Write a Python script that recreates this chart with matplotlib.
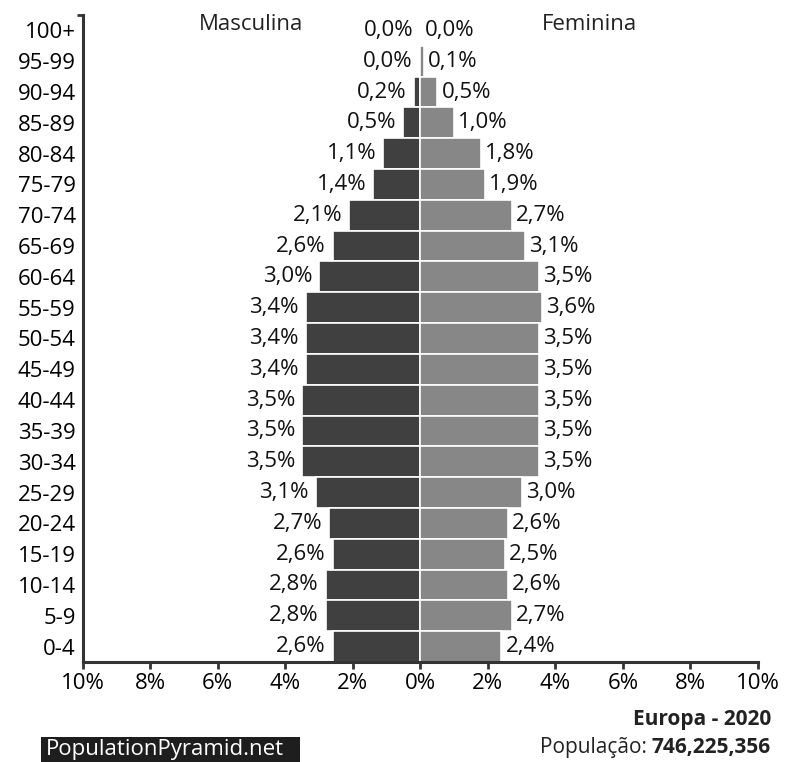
import matplotlib
matplotlib.use("Agg")
import matplotlib.pyplot as plt
from matplotlib.patches import Rectangle

plt.rcParams['font.family'] = ['Open Sans', 'DejaVu Sans']

# age groups from top (100+) to bottom (0-4)
age_groups = ["100+", "95-99", "90-94", "85-89", "80-84", "75-79", "70-74",
              "65-69", "60-64", "55-59", "50-54", "45-49", "40-44", "35-39",
              "30-34", "25-29", "20-24", "15-19", "10-14", "5-9", "0-4"]
male_pct = [0.0, 0.04, 0.2, 0.5, 1.1, 1.4, 2.1, 2.6, 3.0, 3.4, 3.4, 3.4,
            3.5, 3.5, 3.5, 3.1, 2.7, 2.6, 2.8, 2.8, 2.6]
female_pct = [0.0, 0.1, 0.5, 1.0, 1.8, 1.9, 2.7, 3.1, 3.5, 3.6, 3.5, 3.5,
              3.5, 3.5, 3.5, 3.0, 2.6, 2.5, 2.6, 2.7, 2.4]
xticks = [-10, -8, -6, -4, -2, 0, 2, 4, 6, 8, 10]
xticklabels = ["10%", "8%", "6%", "4%", "2%", "0%", "2%", "4%", "6%", "8%", "10%"]

region = "Europa - 2020"
population = "746,225,356"

male_color = "#404040"
female_color = "#878787"
axis_color = "#333333"
fs = 16

fig = plt.figure(figsize=(7.9, 7.62), dpi=100)
ax = fig.add_axes([82.7 / 790, 100 / 762, (758 - 82.7) / 790, (662 - 15) / 762])

n = len(age_groups)
ypos = [n - 1 - i for i in range(n)]

ax.barh(ypos, [-v for v in male_pct], height=1.0, color=male_color,
        edgecolor="white", linewidth=1.2)
ax.barh(ypos, female_pct, height=1.0, color=female_color,
        edgecolor="white", linewidth=1.2)

def fmt(v):
    return "{:.1f}%".format(v).replace(".", ",")

for y, m, f in zip(ypos, male_pct, female_pct):
    ax.annotate(fmt(m), xy=(-m, y), xytext=(-5, 0), textcoords="offset points",
                ha="right", va="center", fontsize=fs, color="#111111")
    ax.annotate(fmt(f), xy=(f, y), xytext=(3, 0), textcoords="offset points",
                ha="left", va="center", fontsize=fs, color="#111111")

ax.text(-5, 20.2, "Masculina", ha="center", va="center", fontsize=fs, color="#222222")
ax.text(5, 20.2, "Feminina", ha="center", va="center", fontsize=fs, color="#222222")

ax.set_xlim(-10, 10)
ax.set_ylim(-0.5, n - 0.5)
ax.set_xticks(xticks)
ax.set_xticklabels(xticklabels, fontsize=fs)
ax.set_yticks(ypos)
ax.set_yticklabels(age_groups, fontsize=fs)
ax.set_yticks([n - 0.5], minor=True)
ax.tick_params(axis="y", which="major", length=0, pad=5)
ax.tick_params(axis="y", which="minor", length=4, width=2, color=axis_color)
ax.tick_params(axis="x", length=5, width=2, color=axis_color, pad=3)

for side in ["top", "right"]:
    ax.spines[side].set_visible(False)
for side in ["left", "bottom"]:
    ax.spines[side].set_linewidth(2.2)
    ax.spines[side].set_color(axis_color)

# footer
fig.text(771 / 790, 1 - 719 / 762, region, ha="right", va="center",
         fontsize=15, fontweight="bold", color="#222222")
bold = fig.text(771 / 790, 1 - 748 / 762, population, ha="right", va="center",
                fontsize=15, fontweight="bold", color="#222222")
ax.annotate("População: ", xy=(0, 0.5), xycoords=bold, ha="right", va="center",
            fontsize=15, color="#222222", annotation_clip=False)

fig.patches.append(Rectangle((41 / 790, 0), (300 - 41) / 790, (762 - 737) / 762,
                             transform=fig.transFigure, facecolor="#1e1e1e",
                             edgecolor="none"))
fig.text(46 / 790, 1 - 749 / 762, "PopulationPyramid.net", ha="left", va="center",
         fontsize=16, color="white")

fig.savefig("out.png", dpi=100)
